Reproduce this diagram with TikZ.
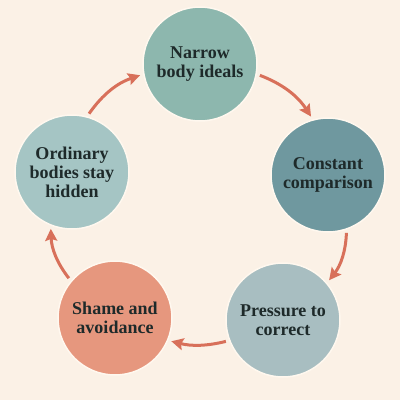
\documentclass[tikz,border=0pt]{standalone}
\usepackage{fontspec}
\setmainfont{Liberation Serif}
\usetikzlibrary{arrows.meta}
\definecolor{bg}{HTML}{FBF1E6}
\definecolor{cA}{HTML}{8DB7AE}
\definecolor{cB}{HTML}{6F989F}
\definecolor{cC}{HTML}{A8BEC1}
\definecolor{cD}{HTML}{E6977E}
\definecolor{cE}{HTML}{A5C5C4}
\definecolor{arr}{HTML}{D8705A}
\definecolor{txt}{HTML}{1E2A2A}
\definecolor{rim}{HTML}{FFF8EF}
\begin{document}
\begin{tikzpicture}[x=1pt,y=-1pt,
  stage/.style={circle,minimum size=114pt,inner sep=0pt,outer sep=0pt,draw=rim,line width=1.5pt,
    align=center,text=txt,font=\fontsize{18}{19}\selectfont\bfseries},
  link/.style={draw=arr,line width=3pt,-{Stealth[length=12pt,width=12pt,inset=2pt]},shorten <=4pt,shorten >=4pt}]
\fill[bg] (0,0) rectangle (400,400);
\useasboundingbox (0,0) rectangle (400,400);
\node[stage,fill=cA] (n1) at (200,64) {Narrow\\body ideals};
\node[stage,fill=cB] (n2) at (328,175) {Constant\\comparison};
\node[stage,fill=cC] (n3) at (283,320) {Pressure to\\correct};
\node[stage,fill=cD] (n4) at (115,318) {Shame and\\avoidance};
\node[stage,fill=cE] (n5) at (72,172) {Ordinary\\bodies stay\\hidden};
\draw[link] (n1.-10) to[bend left=18] (n2.105);
\draw[link] (n2.-71) to[bend left=18] (n3.40);
\draw[link] (n3.201) to[bend left=14] (n4.337);
\draw[link] (n4.140) to[bend left=18] (n5.248);
\draw[link] (n5.75) to[bend left=18] (n1.190);
\end{tikzpicture}
\end{document}
